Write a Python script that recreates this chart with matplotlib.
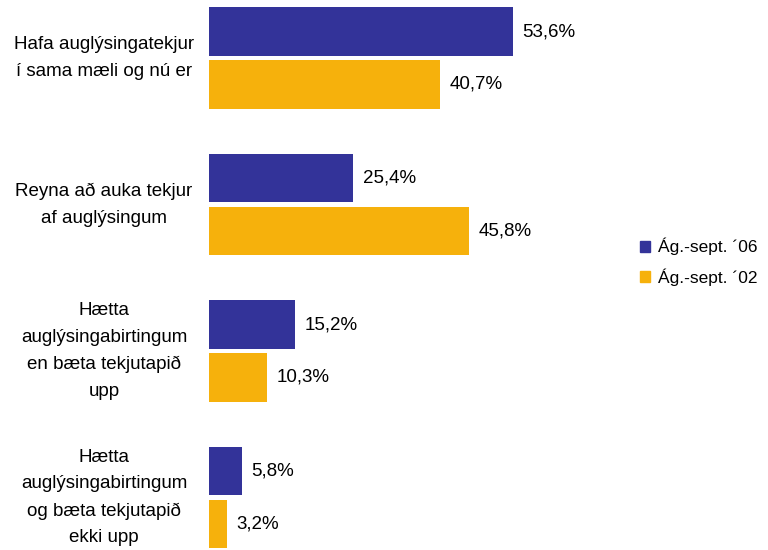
import matplotlib
matplotlib.use('Agg')
from matplotlib import pyplot as plt
from matplotlib import transforms
from matplotlib.patches import Patch

categories = [
    'Hafa auglýsingatekjur\ní sama mæli og nú er',
    'Reyna að auka tekjur\naf auglýsingum',
    'Hætta\nauglýsingabirtingum\nen bæta tekjutapið\nupp',
    'Hætta\nauglýsingabirtingum\nog bæta tekjutapið\nekki upp',
]
series_names = ['Ág.-sept. ´06', 'Ág.-sept. ´02']
values_06 = [53.6, 25.4, 15.2, 5.8]
values_02 = [40.7, 45.8, 10.3, 3.2]
colors = ['#333399', '#F6B10C']

plt.rcParams['font.family'] = ['Liberation Sans', 'DejaVu Sans']

fig = plt.figure(figsize=(7.68, 5.5), dpi=100)
ax = fig.add_axes([209 / 768, 0, (600 - 209) / 768, 1])

bar_h = 0.33
offset = 0.18
y = list(range(len(categories)))

for vals, color, sign in [(values_06, colors[0], -1), (values_02, colors[1], 1)]:
    ys = [i + sign * offset for i in y]
    ax.barh(ys, vals, height=bar_h, color=color)
    for yy, v in zip(ys, vals):
        ax.text(v + 1.7, yy, f'{v:.1f}%'.replace('.', ','), va='center', ha='left', fontsize=13.5)

ax.set_xlim(0, (600 - 209) / 5.67)
ax.set_ylim(3.358, -0.396)
ax.axis('off')

trans = transforms.blended_transform_factory(fig.transFigure, ax.transData)
for i, label in enumerate(categories):
    ax.text(104 / 768, i, label, transform=trans, ha='center', va='center',
            multialignment='center', fontsize=13.5, linespacing=1.75)

handles = [Patch(color=c) for c in colors]
fig.legend(handles, series_names, loc='center left', bbox_to_anchor=(624 / 768, 1 - 262 / 550),
           frameon=False, fontsize=12.5, handlelength=0.6, handleheight=0.6, handletextpad=0.45,
           labelspacing=0.75)

fig.savefig('out.png', dpi=100)
